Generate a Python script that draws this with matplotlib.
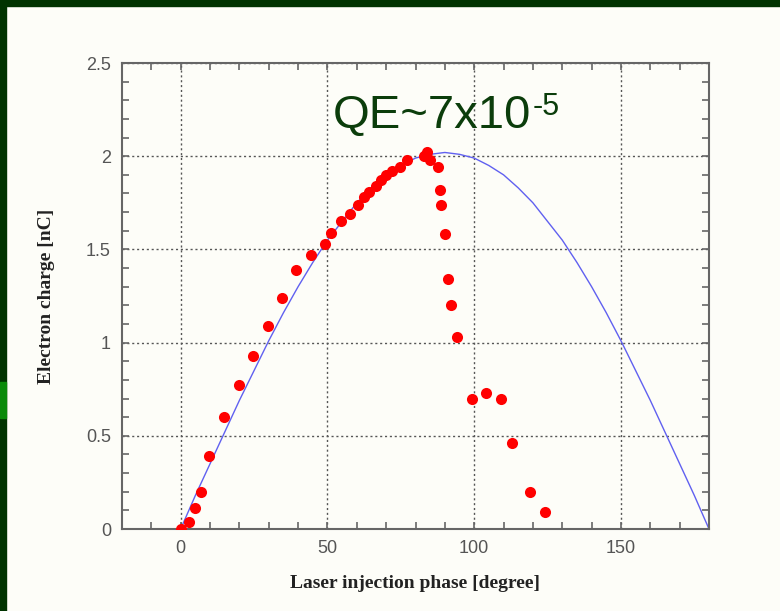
import numpy as np
import matplotlib.pyplot as plt
from matplotlib.patches import Rectangle
from matplotlib.ticker import MultipleLocator

# Measured electron charge vs laser injection phase
phase = [0, 2.9, 4.9, 7.0, 9.6, 14.7, 20.0, 24.8, 29.6, 34.6, 39.4, 44.4,
         49.0, 51.2, 54.6, 57.6, 60.3, 62.3, 64.3, 66.4, 68.2, 69.8, 72.0,
         74.8, 77.2, 82.9, 84.0, 85.0, 87.6, 88.3, 88.8, 90.0, 91.0, 92.0,
         94.3, 99.2, 104.0, 109.0, 113.0, 119.0, 124.0]
charge = [0.0, 0.04, 0.11, 0.20, 0.39, 0.60, 0.77, 0.93, 1.09, 1.24, 1.39, 1.47,
          1.53, 1.59, 1.65, 1.69, 1.74, 1.78, 1.81, 1.84, 1.87, 1.90, 1.92,
          1.94, 1.98, 2.00, 2.02, 1.98, 1.94, 1.82, 1.74, 1.58, 1.34, 1.20,
          1.03, 0.70, 0.73, 0.70, 0.46, 0.20, 0.09]

# Model curve for comparison
model_phase = [0, 5, 10, 15, 20, 25, 30, 35, 40, 45, 50, 55, 60, 65, 70, 75,
               80, 85, 90, 95, 100, 105, 110, 115, 120, 125, 130, 135, 140,
               145, 150, 155, 160, 165, 170, 175, 180]
model_charge = [0.0, 0.18, 0.35, 0.52, 0.69, 0.85, 1.01, 1.16, 1.30, 1.43,
                1.55, 1.65, 1.75, 1.83, 1.90, 1.95, 1.99, 2.01, 2.02, 2.01,
                1.99, 1.95, 1.90, 1.83, 1.75, 1.65, 1.55, 1.43, 1.30, 1.16,
                1.01, 0.85, 0.69, 0.52, 0.35, 0.18, 0.0]

bg = "#fdfdf8"
fig = plt.figure(figsize=(7.8, 6.11), dpi=100, facecolor=bg)

# slide frame: dark green bars on top and left
fig.patches.append(Rectangle((0, 1 - 6 / 611), 1, 6 / 611, transform=fig.transFigure,
                             color="#003300", zorder=0))
fig.patches.append(Rectangle((0, 0), 6 / 780, 1, transform=fig.transFigure,
                             color="#003300", zorder=0))
fig.patches.append(Rectangle((0, 1 - 418 / 611), 6 / 780, 36 / 611,
                             transform=fig.transFigure, color="#0a8a0a", zorder=1))

ax = fig.add_axes([122 / 780, 1 - 529 / 611, 587 / 780, 466 / 611])
ax.set_facecolor(bg)

ax.plot(model_phase, model_charge, color="#6060f0", lw=1.0, zorder=2)
ax.plot(phase, charge, "o", color="#ff0000", ms=8, mec="none", zorder=3)

ax.set_xlim(-20, 180)
ax.set_ylim(0, 2.5)
ax.xaxis.set_major_locator(MultipleLocator(50))
ax.xaxis.set_minor_locator(MultipleLocator(10))
ax.yaxis.set_major_locator(MultipleLocator(0.5))
ax.yaxis.set_minor_locator(MultipleLocator(0.1))
ax.set_yticks([0, 0.5, 1, 1.5, 2, 2.5])
ax.set_yticklabels(["0", "0.5", "1", "1.5", "2", "2.5"])

for s in ax.spines.values():
    s.set_color("#666666")
    s.set_linewidth(1.5)
ax.tick_params(which="both", direction="in", top=True, right=True,
               color="#666666", width=1.2, labelcolor="#555555",
               labelsize=13, pad=8)
ax.tick_params(which="major", length=5)
ax.tick_params(which="minor", length=5)
for lbl in ax.get_xticklabels() + ax.get_yticklabels():
    lbl.set_family("Liberation Sans")

ax.grid(True, which="major", color="#555555", lw=1.0, linestyle=(0, (1.5, 2)))
ax.set_axisbelow(True)

ax.set_xlabel("Laser injection phase [degree]", family="Liberation Serif",
              fontweight="bold", fontsize=14, color="#222222", labelpad=13)
ax.set_ylabel("Electron charge [nC]", family="Liberation Serif",
              fontweight="bold", fontsize=14, color="#222222", labelpad=22)

# QE annotation, exponent drawn as a separate smaller text
qe = fig.text(333 / 780, 1 - 128 / 611, "QE~7x10", family="Liberation Sans",
              fontsize=34, color="#0b3d0b", va="baseline")
fig.canvas.draw()
ext = qe.get_window_extent(fig.canvas.get_renderer())
fig.text(ext.x1 / 780 + 1 / 780, 1 - 115 / 611, "-5", family="Liberation Sans",
         fontsize=22, color="#0b3d0b", va="baseline")

fig.savefig("out.png", dpi=100, facecolor=bg)
